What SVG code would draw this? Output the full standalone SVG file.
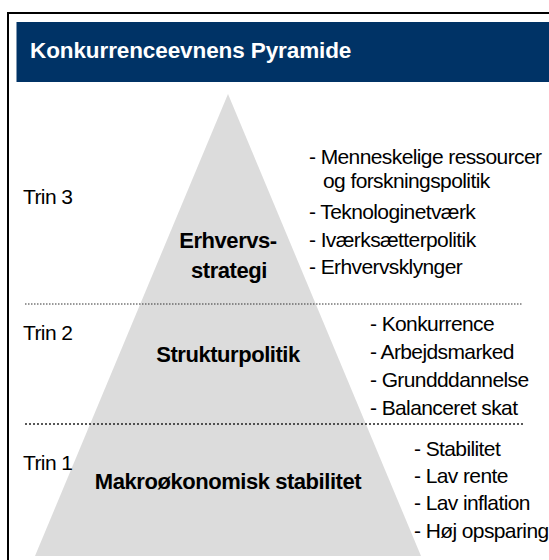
<svg xmlns="http://www.w3.org/2000/svg" width="549" height="560" viewBox="0 0 549 560">
<style>
.t{font-family:"Liberation Sans",Arial,sans-serif;font-size:21px;fill:#000;letter-spacing:-0.6px}
.b{font-family:"Liberation Sans",Arial,sans-serif;font-size:22px;font-weight:bold;fill:#000;letter-spacing:-0.45px;text-anchor:middle}
.h{font-family:"Liberation Sans",Arial,sans-serif;font-size:22.5px;font-weight:bold;fill:#fff;letter-spacing:-0.1px}
</style>
<rect width="549" height="560" fill="#fff"/>
<g id="frame">
<rect x="8" y="13" width="600" height="600" fill="#fff" stroke="#000" stroke-width="2"/>
</g>
<g id="header">
<rect x="16.5" y="22" width="540" height="60" fill="#003366"/>
<text class="h" x="30" y="58">Konkurrenceevnens Pyramide</text>
</g>
<g id="pyramid">
<polygon points="228,94 35,556 421,556" fill="#dcdcdc"/>
</g>
<g id="connectors">
<line x1="25" y1="304" x2="523" y2="304" stroke="#333" stroke-width="1" stroke-dasharray="1.5 1.5"/>
<line x1="25" y1="424" x2="523" y2="424" stroke="#222" stroke-width="1.5" stroke-dasharray="2 2"/>
</g>
<g id="trin3">
<text class="t" x="23" y="204">Trin 3</text>
<text class="b" x="228" y="248">Erhvervs-</text>
<text class="b" x="229" y="278">strategi</text>
<text class="t" x="309" y="164">- Menneskelige ressourcer</text>
<text class="t" x="323" y="188">og forskningspolitik</text>
<text class="t" x="309" y="219">- Teknologinetværk</text>
<text class="t" x="309" y="247">- Iværksætterpolitik</text>
<text class="t" x="309" y="274">- Erhvervsklynger</text>
</g>
<g id="trin2">
<text class="t" x="23" y="340">Trin 2</text>
<text class="b" x="228" y="362">Strukturpolitik</text>
<text class="t" x="370" y="331">- Konkurrence</text>
<text class="t" x="370" y="359">- Arbejdsmarked</text>
<text class="t" x="370" y="387">- Grundddannelse</text>
<text class="t" x="370" y="415">- Balanceret skat</text>
</g>
<g id="trin1">
<text class="t" x="23" y="470">Trin 1</text>
<text class="b" x="228" y="489">Makroøkonomisk stabilitet</text>
<text class="t" x="414" y="456">- Stabilitet</text>
<text class="t" x="414" y="483">- Lav rente</text>
<text class="t" x="414" y="510">- Lav inflation</text>
<text class="t" x="414" y="538">- Høj opsparing</text>
</g>
</svg>
